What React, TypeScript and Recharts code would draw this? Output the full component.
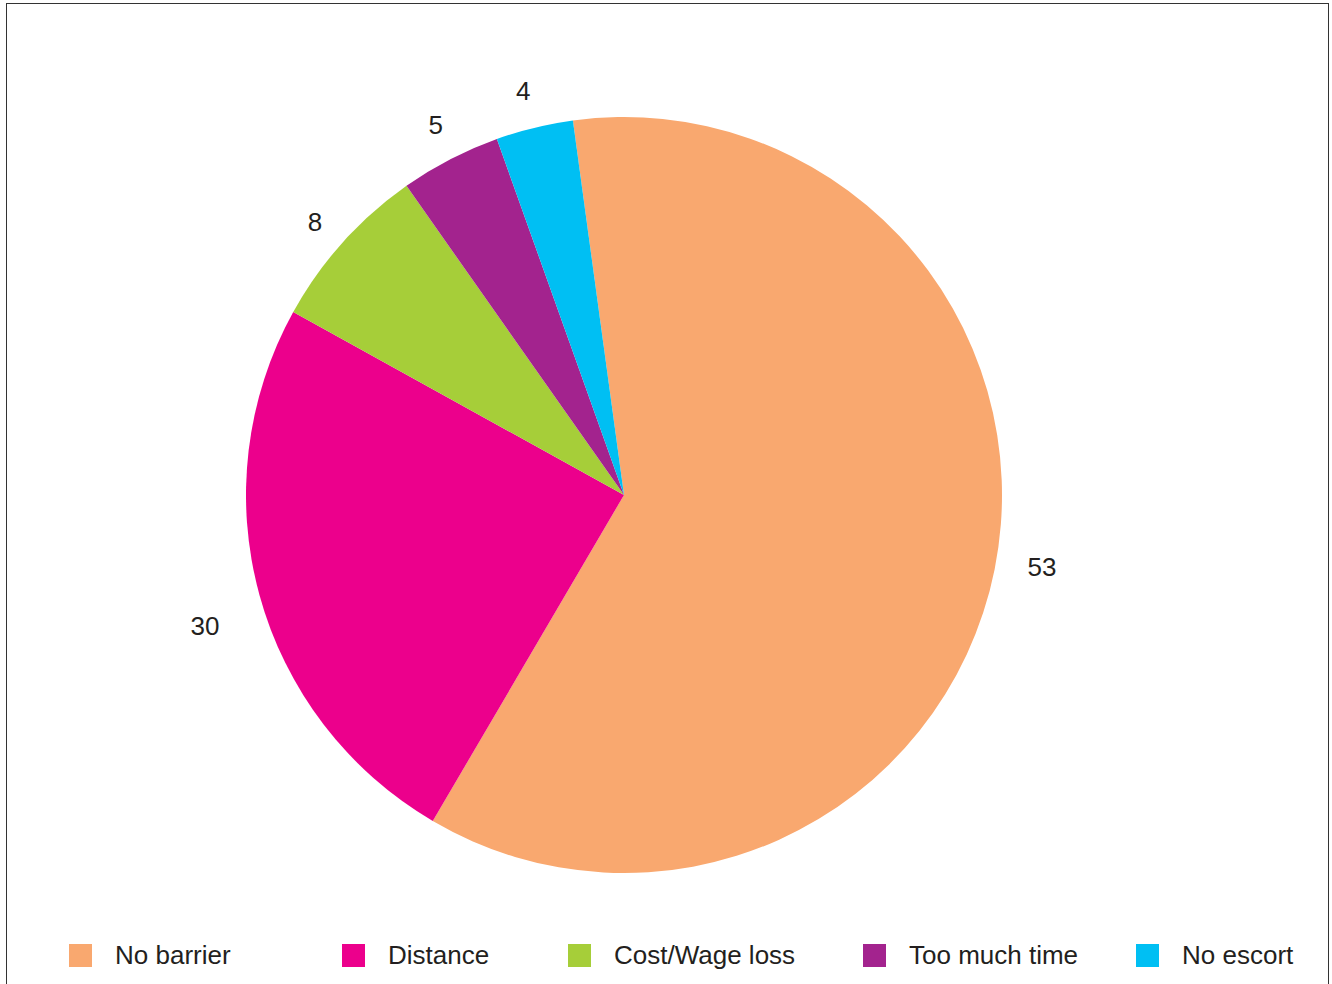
import { Cell, Legend, Pie, PieChart } from 'recharts'

const categories = ['No barrier', 'Distance', 'Cost/Wage loss', 'Too much time', 'No escort']
// slice sizes
const sliceValues = [60.6, 24.6, 7.2, 4.3, 3.3]
// the numbers printed beside each slice
const sliceLabels = ['53', '30', '8', '5', '4']
const COLORS = ['#F9A86F', '#EC008C', '#A6CE39', '#A3238E', '#00BFF3']

const data = categories.map((name, i) => ({ name, value: sliceValues[i], label: sliceLabels[i] }))

// layout tweaks for the label text (degrees clockwise, px beyond the rim)
const LABEL_TURN = [-1.6, -2.0, -0.5, 0.4, -0.3]
const LABEL_GAP = [46, 61, 34, 37, 38]
const LEGEND_X = [69, 342, 568, 863, 1136]
const FONT = '"Liberation Sans", Arial, sans-serif'
const RADIAN = Math.PI / 180

function renderLabel(props: any) {
  const { cx, cy, midAngle, outerRadius, index } = props
  const theta = (90 - midAngle + LABEL_TURN[index]) * RADIAN
  const r = outerRadius + LABEL_GAP[index]
  const x = cx + r * Math.sin(theta)
  const y = cy - r * Math.cos(theta)
  return (
    <text x={x} y={y} textAnchor="middle" dominantBaseline="central" fill="#231F20" fontSize={26} fontFamily={FONT}>
      {data[index].label}
    </text>
  )
}

function LegendRow() {
  return (
    <div style={{ position: 'relative', width: 1332, height: 30 }}>
      {data.map((d, i) => (
        <div key={d.name} style={{ position: 'absolute', left: LEGEND_X[i], top: 0, display: 'flex', alignItems: 'center', height: 24 }}>
          <span style={{ width: 23, height: 23, background: COLORS[i], display: 'inline-block' }} />
          <span style={{ marginLeft: 23, fontSize: 26, fontFamily: FONT, color: '#231F20', lineHeight: '24px' }}>{d.name}</span>
        </div>
      ))}
    </div>
  )
}

export default function App() {
  return (
    <div style={{ position: 'absolute', left: 0, top: 0, width: 1332, height: 984, background: '#fff', overflow: 'hidden' }}>
      <div
        style={{
          position: 'absolute',
          left: 6,
          top: 3,
          width: 1321,
          height: 1000,
          borderTop: '1.5px solid #333',
          borderLeft: '1.5px solid #333',
          borderRight: '1.5px solid #333'
        }}
      />
      <PieChart width={1332} height={984} margin={{ top: 0, right: 0, bottom: 0, left: 0 }} style={{ position: 'absolute', left: 0, top: 0 }}>
        <Pie
          data={data}
          dataKey="value"
          nameKey="name"
          cx={624}
          cy={495}
          outerRadius={378}
          startAngle={97.77}
          endAngle={97.77 - 360}
          stroke="none"
          label={renderLabel}
          labelLine={false}
          isAnimationActive={false}
        >
          {data.map((d, i) => (
            <Cell key={d.name} fill={COLORS[i]} />
          ))}
        </Pie>
        <Legend content={() => <LegendRow />} wrapperStyle={{ left: 0, top: 943, width: 1332 }} />
      </PieChart>
    </div>
  )
}
